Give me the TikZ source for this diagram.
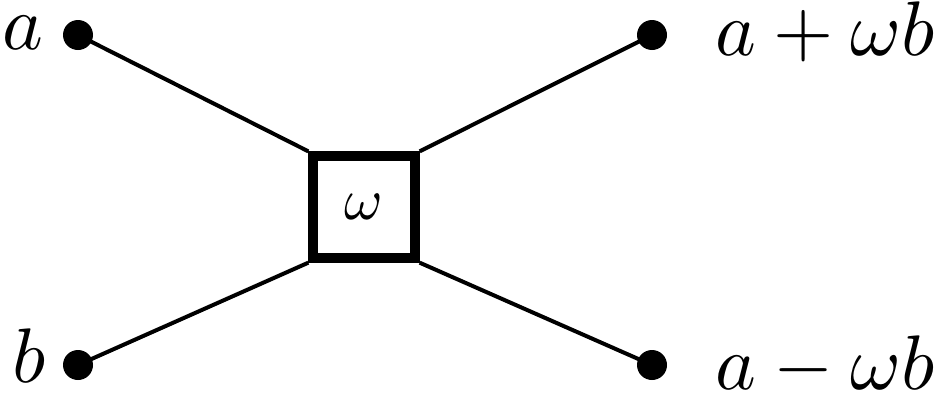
\documentclass[tikz,border=0pt]{standalone}
\begin{document}
\begin{tikzpicture}[x=0.75pt,y=-0.75pt,
  dot/.style={circle,fill=black,inner sep=0pt,minimum size=22.5pt},
  wire/.style={line width=3pt},
  lbl/.style={inner sep=0pt,scale=5.8},
  boxnode/.style={draw,line width=7.5pt,minimum size=76pt,inner sep=0pt}]
\useasboundingbox (0,0) rectangle (941,393);
\node[dot] (A) at (78,35) {};
\node[dot] (B) at (78,365) {};
\node[dot] (C) at (652,35) {};
\node[dot] (D) at (652,365) {};
\node[boxnode] (W) at (364,207) {};
\node[inner sep=0pt,scale=4.4] (w) at (W.center) {$\omega$};
\draw[wire] (A.center) -- (W.north west);
\draw[wire] (B.center) -- (W.south west);
\draw[wire] (C.center) -- (W.north east);
\draw[wire] (D.center) -- (W.south east);
\node[lbl,anchor=base east] (la) at (45,49) {$a$};
\node[lbl,anchor=base east] (lb) at (47,382) {$b$};
\node[lbl,anchor=base west] (lc) at (714,55) {$a+\omega b$};
\node[lbl,anchor=base west] (ld) at (714,389) {$a-\omega b$};
\end{tikzpicture}
\end{document}
